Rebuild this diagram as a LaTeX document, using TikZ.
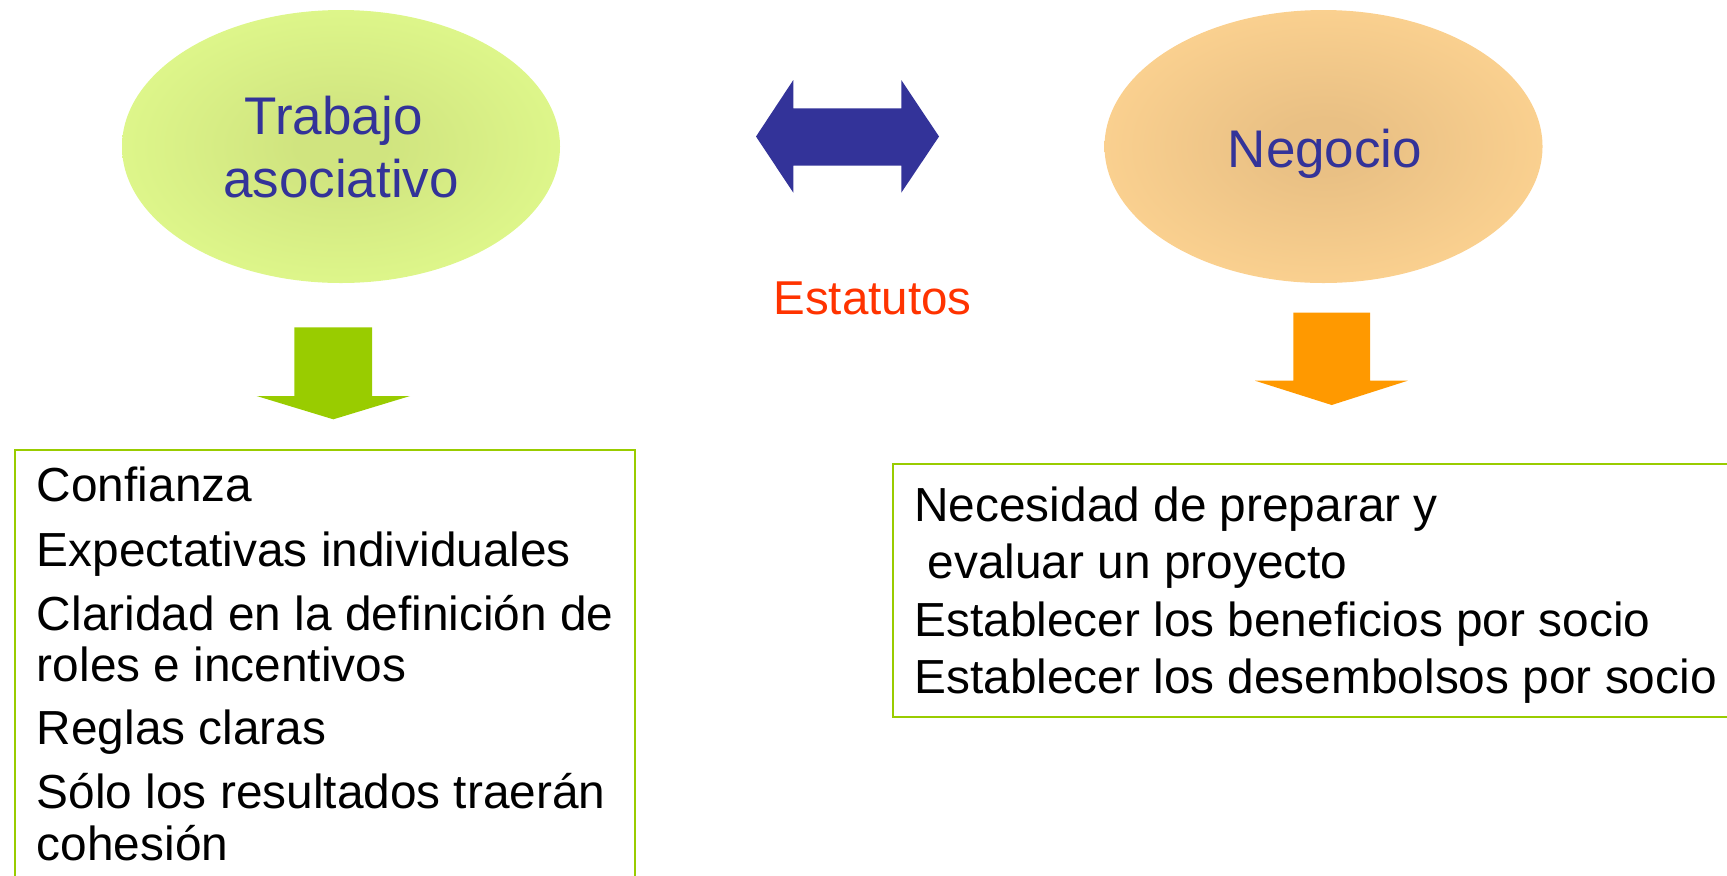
\documentclass[tikz,border=0pt]{standalone}
\usepackage{fontspec}
\setmainfont{Liberation Sans}
\usetikzlibrary{shapes.geometric}
\definecolor{navy}{HTML}{333399}
\definecolor{ginn}{HTML}{D0E47F}
\definecolor{gout}{HTML}{E2FC8E}
\definecolor{oinn}{HTML}{E9C084}
\definecolor{oout}{HTML}{FED492}
\definecolor{garrow}{HTML}{99CC00}
\definecolor{oarrow}{HTML}{FF9900}
\definecolor{boxgreen}{HTML}{99CC00}
\definecolor{estat}{HTML}{FF3300}
\pgfdeclareradialshading{greenell}{\pgfpoint{0bp}{0bp}}{color(0bp)=(ginn); color(5bp)=(ginn); color(32bp)=(gout); color(50bp)=(gout)}
\pgfdeclareradialshading{orangeell}{\pgfpoint{0bp}{0bp}}{color(0bp)=(oinn); color(5bp)=(oinn); color(30bp)=(oout); color(50bp)=(oout)}
\begin{document}
\begin{tikzpicture}[x=0.5pt,y=-0.5pt,
  ell/.style={ellipse, minimum width=219pt, minimum height=136.5pt, inner sep=0pt, draw=none, shade},
  elltext/.style={text=navy, font=\fontsize{26.5pt}{31.5pt}\selectfont, align=center, inner sep=0pt},
  boxline/.style={draw=boxgreen, line width=1.1pt},
  item/.style={anchor=base west, inner sep=0pt, font=\fontsize{23.9pt}{28pt}\selectfont}]
\useasboundingbox (0,0) rectangle (1727,875);
% ellipses
\node[ell, shading=greenell] (trab) at (341,146.5) {};
\node[elltext] (trabt) at (341,147) {Trabajo\hspace*{0.278em}\\asociativo};
\node[ell, shading=orangeell] (neg) at (1323.5,146.5) {};
\node[elltext, anchor=base] (negt) at (1325,167) {Negocio};
% double arrow
\fill[navy] (756,136.5) -- (793.3,80) -- (793.3,108.3) -- (901.3,108.3) -- (901.3,80) -- (939,136.5)
  -- (901.3,192.7) -- (901.3,165.7) -- (793.3,165.7) -- (793.3,192.7) -- cycle;
\node[anchor=base west, inner sep=0pt, text=estat, font=\fontsize{23.75pt}{28pt}\selectfont] (est) at (773,314) {Estatutos};
% down arrows
\fill[garrow] (294.3,327.3) -- (372,327.3) -- (372,396) -- (410,396) -- (333.3,419.3) -- (256.7,396) -- (294.3,396) -- cycle;
\fill[oarrow] (1293.3,312.7) -- (1370,312.7) -- (1370,380.7) -- (1407.7,380.7) -- (1331.7,405) -- (1255,380.7) -- (1293.3,380.7) -- cycle;
% boxes
\draw[boxline] (15,450) rectangle (635,900);
\draw[boxline] (893,464) rectangle (1760,716.7);
% left items
\node[item] (l1) at (36.5,501.7) {Confianza};
\node[item] (l2) at (36.5,566) {Expectativas individuales};
\node[item] (l3) at (36.5,630) {Claridad en la definición de};
\node[item] (l4) at (36.5,681) {roles e incentivos};
\node[item] (l5) at (36.5,744.7) {Reglas claras};
\node[item] (l6) at (36.5,808) {Sólo los resultados traerán};
\node[item] (l7) at (36.5,860) {cohesión};
% right items
\node[item] (r1) at (914,521.7) {Necesidad de preparar y};
\node[item] (r2) at (914,578.5) {\hspace*{0.278em}evaluar un proyecto};
\node[item] (r3) at (914,636) {Establecer los beneficios por socio};
\node[item] (r4) at (914,693) {Establecer los desembolsos por socio};
\end{tikzpicture}
\end{document}
